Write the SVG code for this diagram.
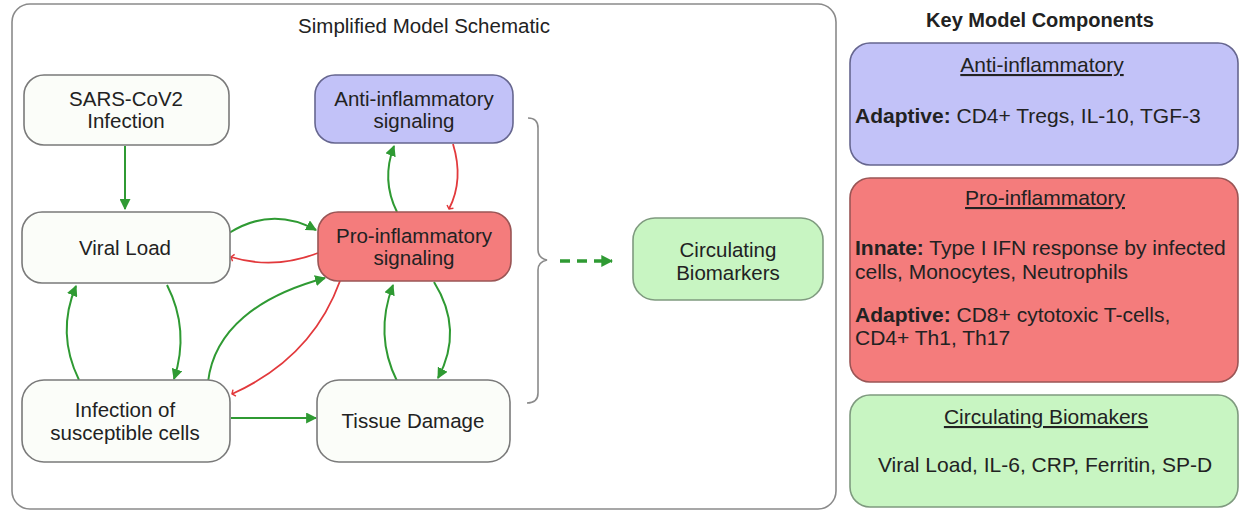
<svg xmlns="http://www.w3.org/2000/svg" width="1241" height="514" viewBox="0 0 1241 514">
  <style>
    text { font-family: "Liberation Sans", Arial, Helvetica, sans-serif; fill: #222; }
    .lbl { font-size: 20.5px; text-anchor: middle; }
    .key { font-size: 21px; }
    .mid { text-anchor: middle; }
    .b { font-weight: bold; }
    .u { text-decoration: underline; }
    .node { stroke: #7a7a7a; stroke-width: 1.6; }
    .plain { fill: #fbfdf9; }
    .anti { fill: #c2c2f8; stroke: #66668f; }
    .pro { fill: #f47c7c; stroke: #9a5555; }
    .bio { fill: #c8f5c2; stroke: #7f9a7f; }
    .act { fill: none; stroke: #2f9a33; stroke-width: 2; marker-end: url(#arrow); }
    .inh { fill: none; stroke: #e2393c; stroke-width: 1.8; marker-end: url(#tee); }
    .dash { fill: none; stroke: #2f9a33; stroke-width: 3.5; stroke-dasharray: 10 7; }
  </style>
  <defs>
    <marker id="arrow" viewBox="0 0 10 10" refX="9" refY="5" markerWidth="5.5" markerHeight="5.5" orient="auto" markerUnits="strokeWidth">
      <path d="M0,0 L10,5 L0,10 Z" fill="#2f9a33"/>
    </marker>
    <marker id="tee" viewBox="0 0 10 10" refX="8" refY="5" markerWidth="5" markerHeight="5" orient="auto" markerUnits="strokeWidth">
      <path d="M5,1 L8,5 L5,9" fill="none" stroke="#e2393c" stroke-width="1.6"/>
    </marker>
    <marker id="dashArrow" viewBox="0 0 10 10" refX="9" refY="5" markerWidth="3.4" markerHeight="3.4" orient="auto" markerUnits="strokeWidth">
      <path d="M0,0 L10,5 L0,10 Z" fill="#2f9a33"/>
    </marker>
  </defs>

  <rect width="1241" height="514" fill="#ffffff"/>

  <!-- schematic frame -->
  <g id="schematic-frame">
    <rect x="12" y="4" width="824" height="505" rx="18" fill="none" stroke="#8a8a8a" stroke-width="1.6"/>
    <text class="lbl" x="424" y="33">Simplified Model Schematic</text>
  </g>

  <!-- connectors -->
  <g id="connectors">
    <path class="act" d="M125,146 L125,209"/>
    <path class="act" d="M229,233 Q272,206 316,230"/>
    <path class="inh" d="M318,253 Q274,270 231,257"/>
    <path class="act" d="M397,212 Q381,180 394,146"/>
    <path class="inh" d="M453,144 Q464,180 449,209"/>
    <path class="act" d="M167,285 Q190,330 174,379"/>
    <path class="act" d="M79,380 Q56,333 76,286"/>
    <path class="act" d="M208,382 C214,330 258,296 325,278"/>
    <path class="inh" d="M340,281 Q312,358 232,394"/>
    <path class="act" d="M231,418 L316,418"/>
    <path class="act" d="M397,381 Q374,335 393,285"/>
    <path class="act" d="M434,282 Q464,330 438,378"/>
    <path d="M528,118 Q538,118 538,128 L538,250 Q538,258 547,260 Q538,262 538,270 L538,393 Q538,403 527,403" fill="none" stroke="#8a8a8a" stroke-width="1.6"/>
    <path class="dash" d="M560,261 L612,261" marker-end="url(#dashArrow)"/>
  </g>

  <!-- nodes -->
  <g id="sars-cov2">
    <rect class="node plain" x="24" y="75" width="205" height="70" rx="20"/>
    <text class="lbl" x="126" y="106">SARS-CoV2</text>
    <text class="lbl" x="126" y="128">Infection</text>
  </g>
  <g id="anti-inflammatory">
    <rect class="node anti" x="315" y="75" width="198" height="68" rx="20"/>
    <text class="lbl" x="414" y="106">Anti-inflammatory</text>
    <text class="lbl" x="414" y="128">signaling</text>
  </g>
  <g id="viral-load">
    <rect class="node plain" x="22" y="212" width="208" height="71" rx="20"/>
    <text class="lbl" x="125" y="255">Viral Load</text>
  </g>
  <g id="pro-inflammatory">
    <rect class="node pro" x="318" y="212" width="193" height="69" rx="20"/>
    <text class="lbl" x="414" y="243">Pro-inflammatory</text>
    <text class="lbl" x="414" y="265">signaling</text>
  </g>
  <g id="infection">
    <rect class="node plain" x="22" y="380" width="208" height="82" rx="22"/>
    <text class="lbl" x="125" y="417">Infection of</text>
    <text class="lbl" x="125" y="440">susceptible cells</text>
  </g>
  <g id="tissue-damage">
    <rect class="node plain" x="317" y="380" width="193" height="82" rx="22"/>
    <text class="lbl" x="413" y="428">Tissue Damage</text>
  </g>
  <g id="circulating-biomarkers">
    <rect class="node bio" x="633" y="218" width="190" height="82" rx="22"/>
    <text class="lbl" x="728" y="257">Circulating</text>
    <text class="lbl" x="728" y="280">Biomarkers</text>
  </g>

  <!-- key panel -->
  <g id="key-title">
    <text class="key mid b" x="1040" y="27" style="font-size:20px">Key Model Components</text>
  </g>
  <g id="key-anti">
    <rect class="node anti" x="850" y="43" width="388" height="122" rx="20"/>
    <text class="key mid u" x="1042" y="72">Anti-inflammatory</text>
    <text class="key" x="855" y="123"><tspan class="b">Adaptive:</tspan> CD4+ Tregs, IL-10, TGF-3</text>
  </g>
  <g id="key-pro">
    <rect class="node pro" x="850" y="178" width="388" height="204" rx="20"/>
    <text class="key mid u" x="1045" y="205">Pro-inflammatory</text>
    <text class="key" x="855" y="255"><tspan class="b">Innate:</tspan> Type I IFN response by infected</text>
    <text class="key" x="855" y="279">cells, Monocytes, Neutrophils</text>
    <text class="key" x="855" y="322"><tspan class="b">Adaptive:</tspan> CD8+ cytotoxic T-cells,</text>
    <text class="key" x="855" y="345">CD4+ Th1, Th17</text>
  </g>
  <g id="key-bio">
    <rect class="node bio" x="850" y="395" width="388" height="112" rx="20"/>
    <text class="key mid u" x="1046" y="424">Circulating Biomakers</text>
    <text class="key mid" x="1045" y="472">Viral Load, IL-6, CRP, Ferritin, SP-D</text>
  </g>
</svg>
